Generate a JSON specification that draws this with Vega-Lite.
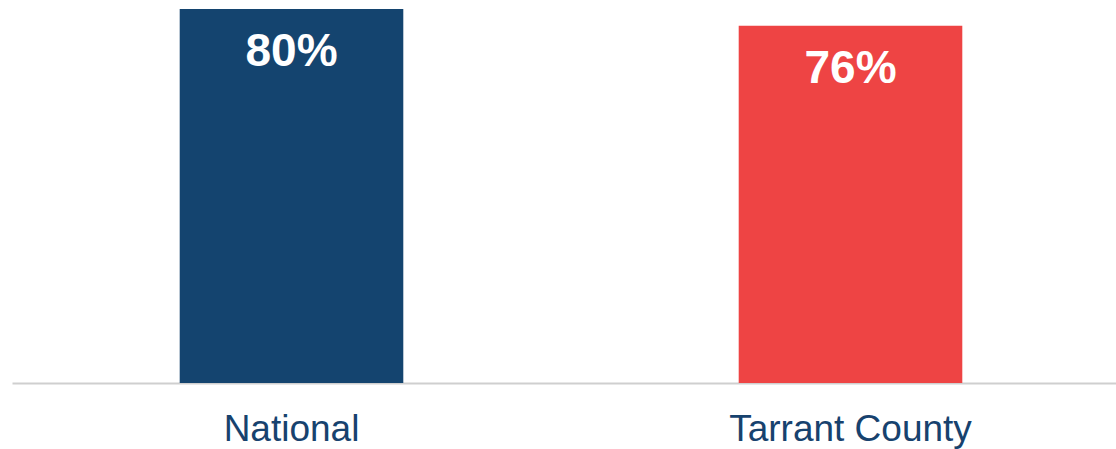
{
  "$schema": "https://vega.github.io/schema/vega-lite/v6.json",
  "width": 1118,
  "height": 383,
  "autosize": {"type": "none"},
  "padding": {"left": 12, "top": 0, "right": 0, "bottom": 66},
  "background": "white",
  "config": {"view": {"stroke": null}, "font": "Liberation Sans"},
  "data": {
    "values": [
      {"region": "National", "value": 80, "label": "80%"},
      {"region": "Tarrant County", "value": 76.4, "label": "76%"}
    ]
  },
  "encoding": {
    "x": {
      "field": "region",
      "type": "nominal",
      "sort": null,
      "scale": {"paddingInner": 0.6, "paddingOuter": 0.3},
      "axis": {
        "title": null,
        "labelAngle": 0,
        "ticks": false,
        "labelPadding": 28,
        "labelFontSize": 37,
        "labelLimit": 0,
        "labelColor": "#17426E",
        "labelFont": "Liberation Sans",
        "domainColor": "#CFCFCF",
        "domainWidth": 2,
        "grid": false
      }
    },
    "y": {
      "field": "value",
      "type": "quantitative",
      "scale": {"domain": [0, 81.93], "nice": false, "zero": true},
      "axis": null
    }
  },
  "layer": [
    {
      "mark": {"type": "bar"},
      "encoding": {
        "color": {
          "field": "region",
          "type": "nominal",
          "scale": {"domain": ["National", "Tarrant County"], "range": ["#14446F", "#EE4444"]},
          "legend": null
        }
      }
    },
    {
      "mark": {
        "type": "text",
        "baseline": "alphabetic",
        "dy": 57,
        "fontSize": 46,
        "fontWeight": "bold",
        "color": "white",
        "font": "Liberation Sans"
      },
      "encoding": {"text": {"field": "label"}}
    }
  ]
}
